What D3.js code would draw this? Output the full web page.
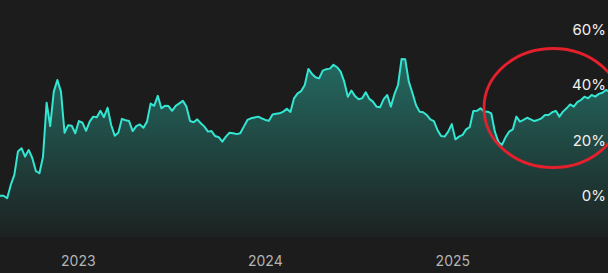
<!DOCTYPE html>
<html>
<head>
<meta charset="utf-8">
<script src="https://cdn.jsdelivr.net/npm/d3@7"></script>
<style>
  html, body { margin: 0; padding: 0; background: #1c1c1c; }
  svg { display: block; }
</style>
</head>
<body>
<div id="chart"></div>
<script>
// weekly readings, first week starting 2022-08-02
var startDate = new Date(2022, 7, 2);
var endDate = new Date(2025, 9, 28);
var values = [
  0.1, 0.1, -0.8, 4.0, 7.6, 16.0, 17.2, 14.2, 16.6, 13.7,
  9.0, 8.2, 14.2, 33.6, 25.2, 37.6, 41.8, 37.6, 22.8, 25.5,
  25.3, 22.6, 27.0, 26.4, 23.5, 26.8, 28.6, 28.4, 30.7, 28.4,
  31.8, 25.6, 21.7, 22.8, 27.8, 27.3, 27.0, 23.4, 25.2, 25.8,
  24.6, 26.8, 33.3, 32.5, 36.1, 31.6, 32.5, 32.4, 30.7, 32.5,
  33.4, 34.3, 32.2, 27.0, 26.6, 27.6, 26.2, 25.0, 23.2, 23.4,
  21.6, 21.2, 19.6, 21.4, 22.8, 22.6, 22.3, 22.6, 25.0, 27.4,
  28.0, 28.3, 28.6, 28.0, 27.4, 27.1, 29.4, 29.6, 29.8, 30.4,
  31.4, 30.3, 35.2, 37.0, 37.8, 40.0, 45.8, 44.0, 42.8, 42.4,
  45.2, 45.7, 45.9, 47.3, 46.4, 44.8, 41.2, 35.8, 38.0, 36.0,
  34.9, 35.2, 37.4, 35.0, 34.0, 32.2, 32.0, 34.9, 36.4, 32.2,
  36.7, 40.0, 49.4, 49.3, 41.2, 37.2, 32.8, 30.4, 30.2, 29.2,
  27.6, 27.0, 23.8, 21.6, 21.4, 23.2, 25.9, 20.4, 21.4, 22.0,
  24.0, 24.8, 30.6, 30.7, 31.6, 30.4, 30.4, 29.8, 23.2, 19.5,
  18.4, 21.2, 23.2, 24.0, 28.6, 26.8, 27.4, 28.2, 27.6, 27.0,
  27.4, 28.0, 29.2, 29.2, 30.2, 30.7, 28.6, 30.4, 31.6, 33.0,
  32.2, 33.8, 34.6, 35.8, 35.2, 36.4, 35.8, 36.8, 37.2, 38.2,
  37.6
];
var yTicks = [0, 20, 40, 60];
var xTickYears = [2023, 2024, 2025];

var width = 608, height = 273;
var plotBottom = 237;

var data = values.map(function (v, i) {
  return { date: d3.timeDay.offset(startDate, i * 7), value: v };
});

var xScale = d3.scaleTime()
  .domain([startDate, endDate])
  .range([0, 606]);

var yScale = d3.scaleLinear()
  .domain([0, 60])
  .range([196, 29.5]);

var svg = d3.select('#chart').append('svg')
  .attr('width', width)
  .attr('height', height);

svg.append('rect')
  .attr('width', width).attr('height', height)
  .attr('fill', '#1c1c1c');

var defs = svg.append('defs');
var grad = defs.append('linearGradient')
  .attr('id', 'fillGrad')
  .attr('gradientUnits', 'userSpaceOnUse')
  .attr('x1', 0).attr('x2', 0)
  .attr('y1', 55).attr('y2', plotBottom);
grad.append('stop').attr('offset', '0%').attr('stop-color', '#2fd9c4').attr('stop-opacity', 0.42);
grad.append('stop').attr('offset', '100%').attr('stop-color', '#2fd9c4').attr('stop-opacity', 0.03);

var area = d3.area()
  .x(function (d) { return xScale(d.date); })
  .y0(plotBottom)
  .y1(function (d) { return yScale(d.value); });

var line = d3.line()
  .x(function (d) { return xScale(d.date); })
  .y(function (d) { return yScale(d.value); });

svg.append('path')
  .datum(data)
  .attr('d', area)
  .attr('fill', 'url(#fillGrad)');

svg.append('path')
  .datum(data)
  .attr('d', line)
  .attr('fill', 'none')
  .attr('stroke', '#33e6d2')
  .attr('stroke-width', 2)
  .attr('stroke-linejoin', 'round');

// y axis on the right, labels only
var yAxis = d3.axisRight(yScale)
  .tickValues(yTicks)
  .tickSize(0)
  .tickFormat(function (d) { return d + '%'; });

var yG = svg.append('g')
  .attr('transform', 'translate(606,0)')
  .call(yAxis);
yG.select('.domain').remove();
yG.selectAll('text')
  .attr('x', 0)
  .attr('text-anchor', 'end')
  .attr('fill', '#f2f2f2')
  .style('font-family', 'Inter, "Open Sans", sans-serif')
  .style('font-size', '15px');

// x axis, year labels only
var xAxis = d3.axisBottom(xScale)
  .tickValues(xTickYears.map(function (y) { return new Date(y, 0, 1); }))
  .tickSize(0)
  .tickFormat(d3.timeFormat('%Y'));

var xG = svg.append('g')
  .attr('transform', 'translate(0,' + plotBottom + ')')
  .call(xAxis);
xG.select('.domain').remove();
xG.selectAll('text')
  .attr('y', 25)
  .attr('dy', '0.32em')
  .attr('fill', '#b4b4b4')
  .style('font-family', 'Inter, "Open Sans", sans-serif')
  .style('font-size', '14px');

// red annotation ring
svg.append('ellipse')
  .attr('cx', 553)
  .attr('cy', 108)
  .attr('rx', 69)
  .attr('ry', 59.5)
  .attr('fill', 'none')
  .attr('stroke', '#e3202c')
  .attr('stroke-width', 2.8);
</script>
</body>
</html>
